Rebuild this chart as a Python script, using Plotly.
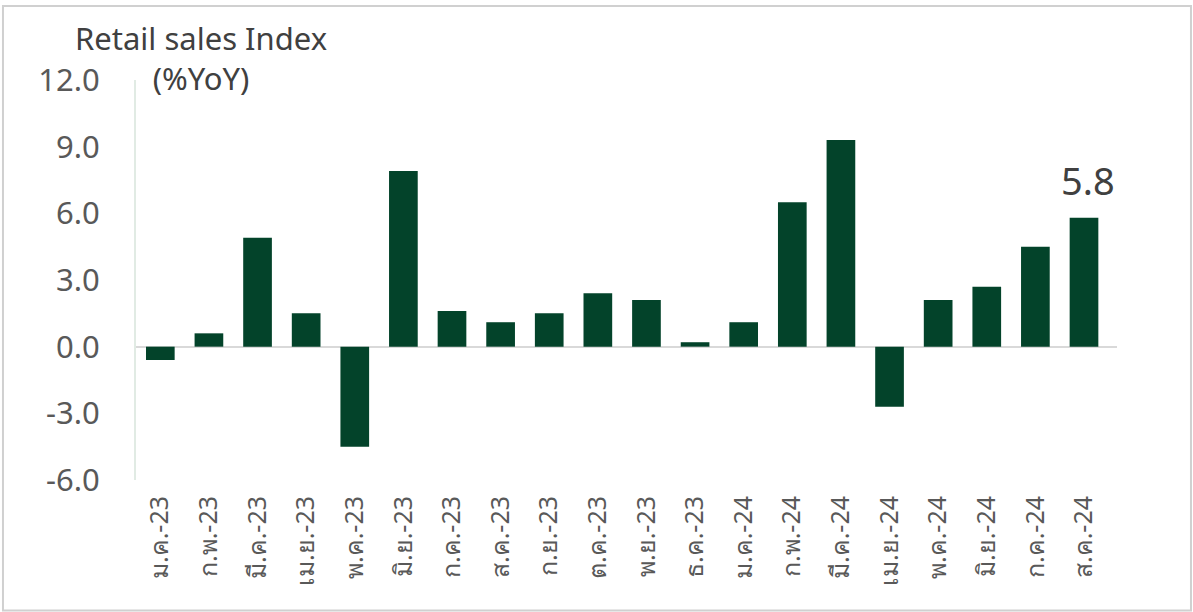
import plotly.graph_objects as go

months = [
    "ม.ค.-23", "ก.พ.-23", "มี.ค.-23", "เม.ย.-23", "พ.ค.-23", "มิ.ย.-23",
    "ก.ค.-23", "ส.ค.-23", "ก.ย.-23", "ต.ค.-23", "พ.ย.-23", "ธ.ค.-23",
    "ม.ค.-24", "ก.พ.-24", "มี.ค.-24", "เม.ย.-24", "พ.ค.-24", "มิ.ย.-24",
    "ก.ค.-24", "ส.ค.-24",
]
retail_yoy = [
    -0.6, 0.6, 4.9, 1.5, -4.5, 7.9, 1.6, 1.1, 1.5, 2.4,
    2.1, 0.2, 1.1, 6.5, 9.3, -2.7, 2.1, 2.7, 4.5, 5.8,
]
y_ticks = [-6.0, -3.0, 0.0, 3.0, 6.0, 9.0, 12.0]

FONT = "Noto Sans, Open Sans, sans-serif"
GREEN = "#03432a"
GREY_TXT = "#595959"

fig = go.Figure()
fig.add_trace(
    go.Bar(
        x=months,
        y=retail_yoy,
        marker=dict(color=GREEN, line=dict(width=0)),
        showlegend=False,
        hoverinfo="x+y",
    )
)

# Label on the latest month only
fig.add_annotation(
    x=months[-1],
    y=retail_yoy[-1],
    text=f"{retail_yoy[-1]:.1f}",
    showarrow=False,
    yanchor="bottom",
    yshift=10,
    xshift=4,
    font=dict(family=FONT, size=38, color="#404040"),
)

# Axis title, placed like the original
fig.add_annotation(
    xref="paper",
    yref="paper",
    x=0.066,
    y=1.163,
    xanchor="center",
    yanchor="top",
    text="Retail sales Index<br>(%YoY)",
    showarrow=False,
    font=dict(family=FONT, size=31, color="#404040"),
)

# Outer frame
fig.add_shape(
    type="rect",
    xref="paper",
    yref="paper",
    x0=-0.1356,
    x1=1.0754,
    y0=-0.326,
    y1=1.185,
    line=dict(color="#d0d0d0", width=2),
    fillcolor="rgba(0,0,0,0)",
    layer="below",
)

fig.update_layout(
    width=1193,
    height=612,
    margin=dict(l=136, r=76, t=80, b=132),
    paper_bgcolor="white",
    plot_bgcolor="white",
    bargap=0.41,
    font=dict(family=FONT, color=GREY_TXT),
)

fig.update_xaxes(
    type="category",
    tickangle=-90,
    tickfont=dict(family=FONT, size=25, color=GREY_TXT),
    showgrid=False,
    showline=False,
    ticks="",
    ticklabelstandoff=10,
)

fig.update_yaxes(
    range=[-6, 12],
    tickvals=y_ticks,
    ticktext=[f"{v:.1f}" for v in y_ticks],
    tickfont=dict(family=FONT, size=31, color=GREY_TXT),
    showgrid=False,
    showline=True,
    linecolor="#e1ebe4",
    linewidth=2,
    zeroline=True,
    zerolinecolor="#d9d9d9",
    zerolinewidth=2,
    ticks="",
    ticklabelstandoff=28,
)

# drop the page's default body margin so the figure sits at the window corner
fig.write_html(
    "out.html",
    config={"displayModeBar": False},
    post_script="document.body.style.margin='0px';",
)
